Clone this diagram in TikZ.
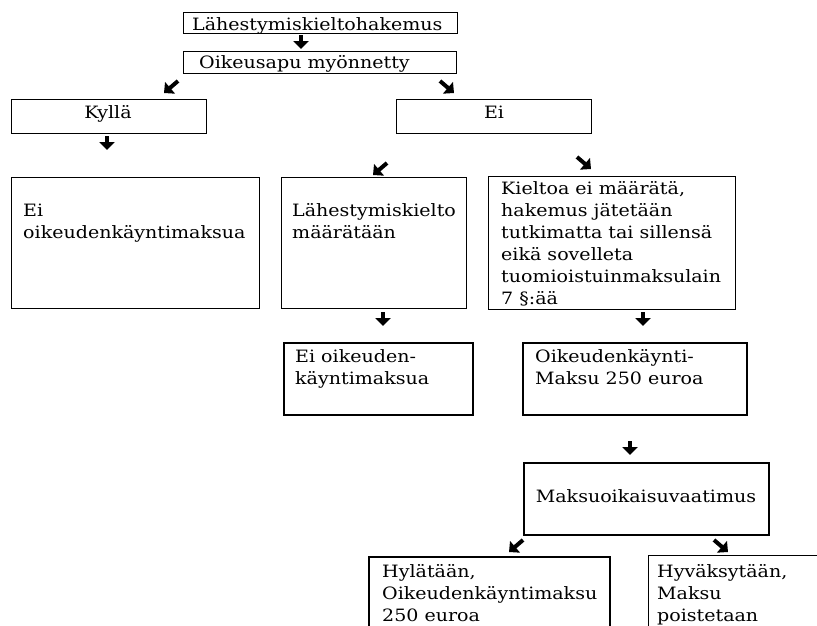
\documentclass[tikz,border=0pt]{standalone}
\usepackage{fontspec}
\setmainfont{DejaVu Serif}[FakeStretch=1.12]
\usetikzlibrary{arrows.meta}

\newcommand{\boxlines}[1]{\parbox[t]{260pt}{\raggedright #1}}

\tikzset{
  box/.style={draw, line width=0.9pt, inner sep=0pt, anchor=north west},
  boldbox/.style={box, line width=1.8pt},
  txt/.style={inner sep=0pt, anchor=base west, align=left},
  blk/.style={line width=4pt, -{Triangle[length=8pt,width=15pt]}},
}

\begin{document}
\begin{tikzpicture}[x=1pt, y=-1pt, font=\fontsize{17}{22}\selectfont]
  \useasboundingbox (0,0) rectangle (817,625);
  \clip (0,0) rectangle (817,625);
  % boxes
  \node[box, minimum width=274pt, minimum height=21pt] (hak) at (183,12) {};
  \node[box, minimum width=273pt, minimum height=22pt] (oik) at (183,51) {};
  \node[box, minimum width=195pt, minimum height=34pt] (kyl) at (11,99) {};
  \node[box, minimum width=195pt, minimum height=34pt] (ei) at (396,99) {};
  \node[box, minimum width=248pt, minimum height=131pt] (eim) at (11,177) {};
  \node[box, minimum width=185pt, minimum height=131pt] (lah) at (281,177) {};
  \node[box, minimum width=247pt, minimum height=133pt] (kie) at (488,176) {};
  \node[boldbox, minimum width=189pt, minimum height=72pt] (eio) at (283,342) {};
  \node[boldbox, minimum width=224pt, minimum height=72pt] (mak) at (522,342) {};
  \node[boldbox, minimum width=245pt, minimum height=72pt] (vaa) at (523,462) {};
  \node[boldbox, minimum width=241pt, minimum height=100pt] (hyl) at (368,556) {};
  \node[box, minimum width=200pt, minimum height=100pt] (hyv) at (648,555) {};
  % texts
  \node[txt] (hak-t) at (192,30) {Lähestymiskieltohakemus};
  \node[txt] (oik-t) at (199,68) {Oikeusapu myönnetty};
  \node[txt, anchor=base] (kyl-t) at (108,118) {Kyllä};
  \node[txt, anchor=base] (ei-t) at (494,118) {Ei};
  \node[txt] (eim-t) at (23,216) {\boxlines{Ei\\oikeudenkäyntimaksua}};
  \node[txt] (lah-t) at (292,216) {\boxlines{Lähestymiskielto\\määrätään}};
  \node[txt] (kie-t) at (501,194) {\boxlines{Kieltoa ei määrätä,\\hakemus jätetään\\tutkimatta tai sillensä\\eikä sovelleta\\tuomioistuinmaksulain\\7 §:ää}};
  \node[txt] (eio-t) at (295,362) {\boxlines{Ei oikeuden-\\käyntimaksua}};
  \node[txt] (mak-t) at (535,362) {\boxlines{Oikeudenkäynti-\\Maksu 250 euroa}};
  \node[txt, anchor=base] (vaa-t) at (646,502) {Maksuoikaisuvaatimus};
  \node[txt] (hyl-t) at (382,577) {\boxlines{Hylätään,\\Oikeudenkäyntimaksu\\250 euroa}};
  \node[txt] (hyv-t) at (657,577) {\boxlines{Hyväksytään,\\Maksu\\poistetaan}};
  % arrows
  \coordinate (a1) at (301,35);
  \coordinate (a2) at (178,81);
  \coordinate (a3) at (440,81);
  \coordinate (a4) at (107,136);
  \coordinate (a5) at (387,163);
  \coordinate (a6) at (577,157);
  \coordinate (a7) at (383,312);
  \coordinate (a8) at (643,312);
  \coordinate (a9) at (630,441);
  \coordinate (a10) at (523,540);
  \coordinate (a11) at (714,540);
  \draw[blk] (a1) -- ++(0,14);
  \draw[blk] (a2) -- ++(-14,12);
  \draw[blk] (a3) -- ++(14,12);
  \draw[blk] (a4) -- ++(0,14);
  \draw[blk] (a5) -- ++(-14,12);
  \draw[blk] (a6) -- ++(14,12);
  \draw[blk] (a7) -- ++(0,14);
  \draw[blk] (a8) -- ++(0,14);
  \draw[blk] (a9) -- ++(0,14);
  \draw[blk] (a10) -- ++(-14,12);
  \draw[blk] (a11) -- ++(14,12);
\end{tikzpicture}
\end{document}
